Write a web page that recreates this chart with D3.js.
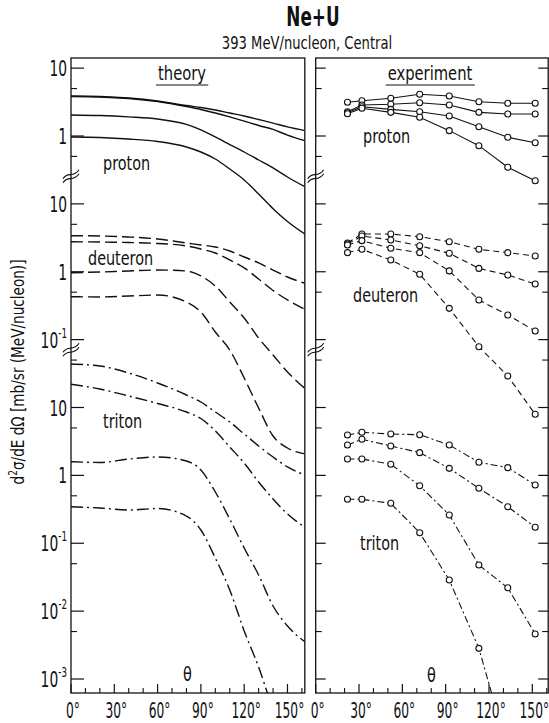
<!DOCTYPE html>
<html><head><meta charset="utf-8">
<script src="https://cdn.jsdelivr.net/npm/d3@7"></script>
<style>
body{margin:0;background:#fff;}
svg{display:block;}
text{font-family:"DejaVu Sans Condensed","DejaVu Sans",sans-serif;fill:#111;}
</style></head><body>
<svg id="c" width="549" height="723"></svg>
<script>
// ---------------- data ----------------
const species = ["proton", "deuteron", "triton"];
const speciesShift = [1e5, 1e3, 1];           // each block is shifted on the common log axis

const theoryAngles = [0, 20, 40, 60, 80, 90, 100, 110, 120, 130, 140, 150, 162];
const theoryProton = [
  [3.88, 3.82, 3.63, 3.28, 2.81, 2.63, 2.42, 2.18, 1.97, 1.75, 1.55, 1.36, 1.20],
  [3.82, 3.76, 3.57, 3.22, 2.72, 2.46, 2.18, 1.91, 1.66, 1.43, 1.25, 1.03, 0.853],
  [2.04, 2.00, 1.91, 1.78, 1.48, 1.23, 0.967, 0.749, 0.581, 0.443, 0.338, 0.249, 0.179],
  [0.967, 0.950, 0.903, 0.830, 0.689, 0.581, 0.458, 0.326, 0.225, 0.140, 0.085, 0.055, 0.036]
];
const theoryDeuteron = [
  [3.40, 3.36, 3.25, 3.04, 2.65, 2.48, 2.32, 2.02, 1.65, 1.35, 1.06, 0.837, 0.676],
  [2.77, 2.74, 2.70, 2.61, 2.40, 2.16, 1.89, 1.49, 1.14, 0.782, 0.53, 0.384, 0.280],
  [0.968, 0.992, 1.026, 1.06, 1.026, 0.866, 0.617, 0.358, 0.208, 0.1057, 0.0594, 0.0333, 0.0192],
  [0.429, 0.425, 0.439, 0.454, 0.358, 0.255, 0.1295, 0.0703, 0.0272, 0.00983, 0.0038, 0.00253, 0.00207]
];
const theoryTriton = [
  [43.7, 40.9, 32.2, 22.96, 15.28, 12.05, 8.58, 6.11, 4.07, 2.71, 1.865, 1.33, 1.013],
  [21.97, 18.73, 14.77, 11.46, 8.58, 6.89, 4.51, 2.62, 1.52, 0.799, 0.449, 0.270, 0.172],
  [1.59, 1.55, 1.74, 1.865, 1.63, 1.20, 0.569, 0.2276, 0.0851, 0.0341, 0.0119, 0.00604, 0.00354],
  [0.3455, 0.3307, 0.309, 0.325, 0.252, 0.1567, 0.0606, 0.0205, 0.0051, 0.0015, 0.00035, 0.00009, 0.00002]
];

const exptAngles = [22, 32, 52, 72, 92.5, 113, 133, 152];
const exptProton = [
  [3.14, 3.31, 3.59, 4.12, 3.88, 3.20, 3.03, 3.03],
  [2.28, 2.86, 2.93, 3.09, 2.86, 2.23, 2.11, 2.11],
  [2.20, 2.70, 2.47, 2.28, 1.97, 1.37, 0.957, 0.797],
  [2.13, 2.56, 2.23, 1.89, 1.20, 0.72, 0.346, 0.219]
];
const exptDeuteron = [
  [2.65, 3.60, 3.60, 3.28, 2.77, 2.14, 1.91, 1.71],
  [2.56, 3.36, 2.94, 2.42, 1.87, 1.12, 0.896, 0.660],
  [2.48, 2.87, 2.22, 1.91, 1.03, 0.384, 0.2306, 0.134],
  [1.91, 2.14, 1.49, 0.917, 0.289, 0.0787, 0.0291, 0.00794]
];
const exptTriton = [
  [3.93, 4.31, 4.07, 3.97, 2.80, 1.56, 1.30, 0.721],
  [2.80, 3.40, 2.71, 2.16, 1.27, 0.645, 0.3455, 0.172],
  [1.74, 1.74, 1.46, 0.705, 0.261, 0.0478, 0.0221, 0.0046],
  [0.444, 0.444, 0.388, 0.143, 0.0287, 0.00283, 0.00009]
];

// axis ticks (in each block's own units)
const majorTicks = [[10, 1], [10, 1, 0.1], [10, 1, 0.1, 0.01, 0.001]];
const minorTicks = [[5, 0.5], [5, 0.5], [50, 5, 0.5, 0.05, 0.005]];
const breakValues = [2.6e4, 72];                 // common-axis values of the axis breaks
const xMajor = [0, 30, 60, 90, 120, 150];
const xMinor = [10, 20, 40, 50, 70, 80, 100, 110, 130, 140, 160];

const titleText = "Ne+U";
const subtitleText = "393 MeV/nucleon, Central";
const panelTitles = ["theory", "experiment"];

// ---------------- layout ----------------
const svg = d3.select("#c");
const yTop = 58, yBot = 693;
const y = d3.scaleLog().domain([1e-3, 1e6]).range([679, 68.125]);
const xL = d3.scaleLinear().domain([0, 162]).range([71, 304.8]);
const xR = d3.scaleLinear().domain([0, 161]).range([315.7, 548.2]);
const panels = [{x: xL, x0: 71, x1: 304.8}, {x: xR, x0: 315.7, x1: 548.2}];

const theoryDash = ["", "12,5", "12,4,2,4"];
const exptDash = ["", "6,4", "7,3,2,3"];

// narrow text helper (condensed look of the original lettering)
function txt(parent, x, yy, str, size, anchor, sx) {
  return parent.append("text")
    .attr("transform", `translate(${x},${yy}) scale(${sx},1)`)
    .attr("text-anchor", anchor || "start")
    .style("font-size", size + "px").text(str);
}

// clip paths
const defs = svg.append("defs");
panels.forEach((p, i) => {
  defs.append("clipPath").attr("id", "clip" + i).append("rect")
    .attr("x", p.x0).attr("y", yTop).attr("width", p.x1 - p.x0).attr("height", yBot - yTop);
});

// titles
txt(svg, 313, 26, titleText, 26, "middle", 0.72).style("font-weight", "bold");
txt(svg, 307, 49, subtitleText, 17, "middle", 0.86);

// frames
panels.forEach(p => {
  svg.append("rect").attr("x", p.x0).attr("y", yTop).attr("width", p.x1 - p.x0).attr("height", yBot - yTop)
    .attr("fill", "none").attr("stroke", "#111").attr("stroke-width", 1.3);
});

// y ticks
function addYTicks(xpos, dir, withLabels) {
  const g = svg.append("g");
  majorTicks.forEach((arr, s) => arr.forEach(v => {
    const yy = y(v * speciesShift[s]);
    g.append("line").attr("x1", xpos).attr("x2", xpos + dir * (withLabels ? 13 : 10))
      .attr("y1", yy).attr("y2", yy).attr("stroke", "#111").attr("stroke-width", 1.2);
    if (withLabels) {
      const e = Math.round(Math.log10(v));
      const t = txt(g, xpos - 4, yy + 8, "", 22, "end", 0.7);
      if (e >= 0) t.text(String(v));
      else {
        t.append("tspan").text("10");
        t.append("tspan").attr("dy", -10).style("font-size", "14px").text(String(e));
      }
    }
  }));
  minorTicks.forEach((arr, s) => arr.forEach(v => {
    const yy = y(v * speciesShift[s]);
    g.append("line").attr("x1", xpos).attr("x2", xpos + dir * 6)
      .attr("y1", yy).attr("y2", yy).attr("stroke", "#111").attr("stroke-width", 1.1);
  }));
}
addYTicks(71, 1, true);
addYTicks(315.7, 1, false);
addYTicks(548.2, -1, false);

// axis breaks
function addBreak(xpos, v) {
  const yy = y(v);
  [-2, 2].forEach(o => {
    svg.append("path")
      .attr("d", `M${xpos - 8},${yy + 5 + o} C${xpos - 3},${yy - 3 + o} ${xpos + 2},${yy + 5 + o} ${xpos + 8},${yy - 4 + o}`)
      .attr("fill", "none").attr("stroke", "#111").attr("stroke-width", 1.1);
  });
}
breakValues.forEach(v => { addBreak(71, v); addBreak(315.7, v); });

// x ticks and labels
panels.forEach(p => {
  xMajor.forEach(a => {
    svg.append("line").attr("x1", p.x(a)).attr("x2", p.x(a)).attr("y1", yBot).attr("y2", yBot - 9)
      .attr("stroke", "#111").attr("stroke-width", 1.2);
    txt(svg, p.x(a) + 2, 718, a + "°", 22, "middle", 0.62);
  });
  xMinor.forEach(a => {
    if (p.x(a) < p.x1 - 1)
      svg.append("line").attr("x1", p.x(a)).attr("x2", p.x(a)).attr("y1", yBot).attr("y2", yBot - 5)
        .attr("stroke", "#111").attr("stroke-width", 1.1);
  });
});

// theory curves
const theorySets = [theoryProton, theoryDeuteron, theoryTriton];
const gT = svg.append("g").attr("clip-path", "url(#clip0)");
theorySets.forEach((set, s) => {
  set.forEach(vals => {
    const line = d3.line().x((d, i) => xL(theoryAngles[i])).y(d => y(d * speciesShift[s]))
      .curve(d3.curveMonotoneX);
    gT.append("path").attr("d", line(vals)).attr("fill", "none").attr("stroke", "#111")
      .attr("stroke-width", 1.4).attr("stroke-dasharray", theoryDash[s]);
  });
});

// experiment
const exptSets = [exptProton, exptDeuteron, exptTriton];
const gE = svg.append("g").attr("clip-path", "url(#clip1)");
exptSets.forEach((set, s) => {
  set.forEach(vals => {
    const line = d3.line().x((d, i) => xR(exptAngles[i])).y(d => y(d * speciesShift[s]));
    gE.append("path").attr("d", line(vals)).attr("fill", "none").attr("stroke", "#111")
      .attr("stroke-width", 1.1).attr("stroke-dasharray", exptDash[s]);
  });
});
exptSets.forEach((set, s) => {
  set.forEach(vals => {
    gE.selectAll(null).data(vals).enter().append("circle")
      .attr("cx", (d, i) => xR(exptAngles[i])).attr("cy", d => y(d * speciesShift[s]))
      .attr("r", 3).attr("fill", "#fff").attr("stroke", "#111").attr("stroke-width", 1.1);
  });
});

// panel headers
const headerX = [182, 430];
panelTitles.forEach((t, i) => {
  const tx = txt(svg, headerX[i], 80, t, 20, "middle", 0.82);
  const bb = tx.node().getBoundingClientRect();
  svg.append("line").attr("x1", bb.left - 2).attr("x2", bb.right + 2).attr("y1", 85).attr("y2", 85)
    .attr("stroke", "#111").attr("stroke-width", 1.2);
});

// species labels
const labelPosL = [[103, 170], [88, 265], [103, 428]];
const labelPosR = [[363, 143], [353, 302], [360, 550]];
species.forEach((sp, i) => {
  txt(svg, labelPosL[i][0], labelPosL[i][1], sp, 20, "start", 0.8);
  txt(svg, labelPosR[i][0], labelPosR[i][1], sp, 20, "start", 0.8);
});
txt(svg, 183, 681, "θ", 20, "start", 0.8);
txt(svg, 427, 682, "θ", 20, "start", 0.8);

// y axis title
const yt = svg.append("text").attr("transform", "translate(24,372) rotate(-90) scale(0.84,1)")
  .attr("text-anchor", "middle").style("font-size", "18px");
yt.append("tspan").text("d");
yt.append("tspan").attr("dy", -7).style("font-size", "12px").text("2");
yt.append("tspan").attr("dy", 7).text("σ/dE dΩ [mb/sr (MeV/nucleon)]");
</script>
</body></html>
